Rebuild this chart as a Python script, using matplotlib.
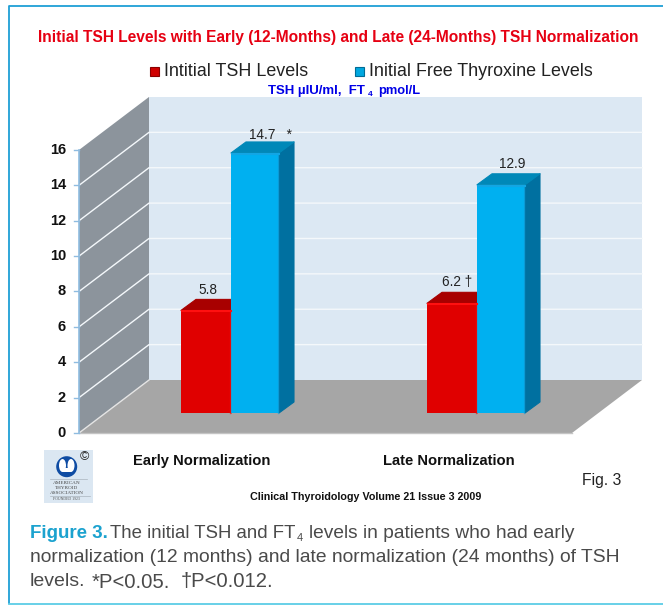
import matplotlib
matplotlib.use("Agg")
import matplotlib.pyplot as plt
from matplotlib.patches import Polygon, Rectangle, Ellipse

# values
groups = ["Early Normalization", "Late Normalization"]
tsh_values = [5.8, 6.2]
ft4_values = [14.7, 12.9]
tsh_labels = ["5.8", "6.2 †"]
ft4_labels = ["14.7   *", "12.9"]
y_ticks = [0, 2, 4, 6, 8, 10, 12, 14, 16]

W, H = 663, 605
Y0_PX = 433.0  # pixel row of value 0
UNIT_PX = 17.69  # pixels per y unit


def vy(py):
    # pixel row to value scale, the whole figure is one axes
    return (Y0_PX - py) / UNIT_PX


plt.rcParams["font.family"] = ["Liberation Sans", "DejaVu Sans"]

fig = plt.figure(figsize=(W / 100, H / 100), dpi=100)
ax = fig.add_axes([0, 0, 1, 1])
ax.set_xlim(0, W)
ax.set_ylim(vy(H), vy(0))
ax.axis("off")

# panel border
ax.plot([W, 8.5, 8.5], [vy(5.5), vy(5.5), vy(603)], color="#1f9fd6", lw=1.3)
ax.plot([8.5, W], [vy(603.5), vy(603.5)], color="#5ccde6", lw=1.3)

# 3d box: back wall, side wall, floor
left, right = 79, 572
dx, dy = 70, 53 / UNIT_PX
top = y_ticks[-1]
ax.add_patch(Rectangle((left + dx, dy), right - left, top, fc="#dce8f3", ec="none"))
ax.add_patch(Polygon([(left, 0), (left + dx, dy), (left + dx, dy + top), (left, top)],
                     fc="#8c949c", ec="none"))
ax.add_patch(Polygon([(left, 0), (right, 0), (right + dx, dy), (left + dx, dy)],
                     fc="#a6a6a6", ec="none"))
ax.plot([left, right], [0, 0], color="#c4c4c4", lw=1)
ax.plot([left, left + dx], [0, dy], color="#e4e4e4", lw=1)

for t in y_ticks:
    if 0 < t < top:
        ax.plot([left, left + dx, right + dx], [t, t + dy, t + dy], color="#f4f8fb", lw=1)
    ax.plot([left - 5, left], [t, t], color="#8fbce0", lw=1)
    ax.text(66, t, str(t), ha="right", va="center", fontsize=10.5, fontweight="bold", color="#111111")
ax.plot([left, left], [0, top], color="#8fbce0", lw=1.2)

# bars
base = vy(413)
bar_dx, bar_dy = 15, 11 / UNIT_PX
centers = [231, 477]


def draw_bar(x0, width, value, front, side, roof, shine):
    ax.bar(x0, value, width, bottom=base, align="edge", color=front, zorder=3)
    y1 = base + value
    ax.add_patch(Polygon([(x0 + width, base), (x0 + width + bar_dx, base + bar_dy),
                          (x0 + width + bar_dx, y1 + bar_dy), (x0 + width, y1)],
                         fc=side, ec=side, lw=0.8, joinstyle="round", zorder=3))
    ax.add_patch(Polygon([(x0, y1), (x0 + bar_dx, y1 + bar_dy),
                          (x0 + width + bar_dx, y1 + bar_dy), (x0 + width, y1)],
                         fc=roof, ec=roof, lw=0.8, joinstyle="round", zorder=3))
    ax.plot([x0 + 0.5, x0 + width - 0.5], [y1 - 0.06, y1 - 0.06], color=shine, lw=1.5, zorder=4)
    ax.plot([x0 + width - 0.8, x0 + width - 0.8], [base, y1], color=shine, lw=1, alpha=0.6, zorder=4)


for i, c in enumerate(centers):
    draw_bar(c - 50, 50, tsh_values[i], "#e00000", "#a80000", "#a80000", "#ff1010")
    draw_bar(c, 48, ft4_values[i], "#00b0f0", "#0070a0", "#0088b8", "#12a6e4")

# value labels sit over the bar tops
ax.text(208, base + tsh_values[0] + 1.15, tsh_labels[0], ha="center", va="center", fontsize=9.8, color="#222222")
ax.text(249, base + ft4_values[0] + 1.0, ft4_labels[0], ha="left", va="center", fontsize=9.8, color="#222222")
ax.text(442, base + tsh_values[1] + 1.2, tsh_labels[1], ha="left", va="center", fontsize=9.8, color="#222222")
ax.text(512, base + ft4_values[1] + 1.15, ft4_labels[1], ha="center", va="center", fontsize=9.8, color="#222222")

# category labels
ax.text(202, vy(465), groups[0], ha="center", va="baseline", fontsize=10.6, fontweight="bold", color="#111111")
ax.text(448.5, vy(465), groups[1], ha="center", va="baseline", fontsize=10.6, fontweight="bold", color="#111111")

# title, legend, units
ax.text(338.5, vy(37.5), "Initial TSH Levels with Early (12-Months) and Late (24-Months) TSH Normalization",
        ha="center", va="center", fontsize=11.2, fontweight="bold", color="#e60012")
ax.add_patch(Rectangle((150, vy(75.5)), 9, 9 / UNIT_PX, fc="#d00000", ec="#8a0000", lw=0.8))
ax.text(164, vy(71), "Intitial TSH Levels", ha="left", va="center", fontsize=12.9, color="#222222")
ax.add_patch(Rectangle((355, vy(75.5)), 9, 9 / UNIT_PX, fc="#00a8e0", ec="#006c96", lw=0.8))
ax.text(369, vy(71), "Initial Free Thyroxine Levels", ha="left", va="center", fontsize=12.9, color="#222222")
ax.text(268, vy(91), "TSH µIU/ml,  FT", ha="left", va="center", fontsize=9.5, fontweight="bold", color="#0000e6")
ax.text(367.5, vy(95), "4", ha="left", va="center", fontsize=6, fontweight="bold", color="#0000e6")
ax.text(378, vy(91), "pmol/L", ha="left", va="center", fontsize=9.3, fontweight="bold", color="#0000e6")

# logo block
ax.add_patch(Rectangle((44, vy(503)), 49, 53 / UNIT_PX, fc="#dbe7f2", ec="none"))
ax.add_patch(Ellipse((66.7, vy(466.7)), 21, 21 / UNIT_PX, fc="#0f4ca3", ec="none"))
ax.add_patch(Ellipse((62.5, vy(465.5)), 7, 13 / UNIT_PX, fc="white", ec="none"))
ax.add_patch(Ellipse((71, vy(465.5)), 7, 13 / UNIT_PX, fc="white", ec="none"))
ax.add_patch(Rectangle((63, vy(472)), 8, 4 / UNIT_PX, fc="white", ec="none"))
ax.text(84, vy(457), "©", ha="center", va="center", fontsize=9, color="#222222")
ax.plot([50, 87], [vy(478.5), vy(478.5)], color="#aab4bd", lw=0.5)
ax.plot([50, 90], [vy(496), vy(496)], color="#aab4bd", lw=0.5)
for row, word in zip([482.7, 488, 493], ["AMERICAN", "THYROID", "ASSOCIATION"]):
    ax.text(66.5, vy(row), word, ha="center", va="center", fontsize=3.7, family="Liberation Serif", color="#444444")
ax.text(66.5, vy(499.5), "FOUNDED 1923", ha="center", va="center", fontsize=2.8, family="Liberation Serif", color="#555555")

# source and figure tag
ax.text(365.5, vy(497), "Clinical Thyroidology Volume 21 Issue 3 2009", ha="center", va="center",
        fontsize=7.75, fontweight="bold", color="#111111")
ax.text(582, vy(480), "Fig. 3", ha="left", va="center", fontsize=11.3, color="#222222")

# caption
cap_color = "#4a4a4a"
ax.text(30, vy(534), "Figure 3.", ha="left", va="center", fontsize=13.5, fontweight="bold", color="#1ba2cf")
ax.text(110, vy(534), "The initial TSH and FT", ha="left", va="center", fontsize=13.4, color=cap_color)
ax.text(297, vy(538), "4", ha="left", va="center", fontsize=8, color=cap_color)
ax.text(309, vy(534), "levels in patients who had early", ha="left", va="center", fontsize=13.8, color=cap_color)
ax.text(30, vy(558), "normalization (12 months) and late normalization (24 months) of TSH", ha="left", va="center", fontsize=13.9, color=cap_color)
ax.text(30, vy(582), "levels.", ha="left", va="center", fontsize=14, color=cap_color)
ax.text(92, vy(582), "*P<0.05.", ha="left", va="center", fontsize=14.6, color=cap_color)
ax.text(181, vy(582), "†P<0.012.", ha="left", va="center", fontsize=14.6, color=cap_color)

fig.savefig("out.png", dpi=100)
